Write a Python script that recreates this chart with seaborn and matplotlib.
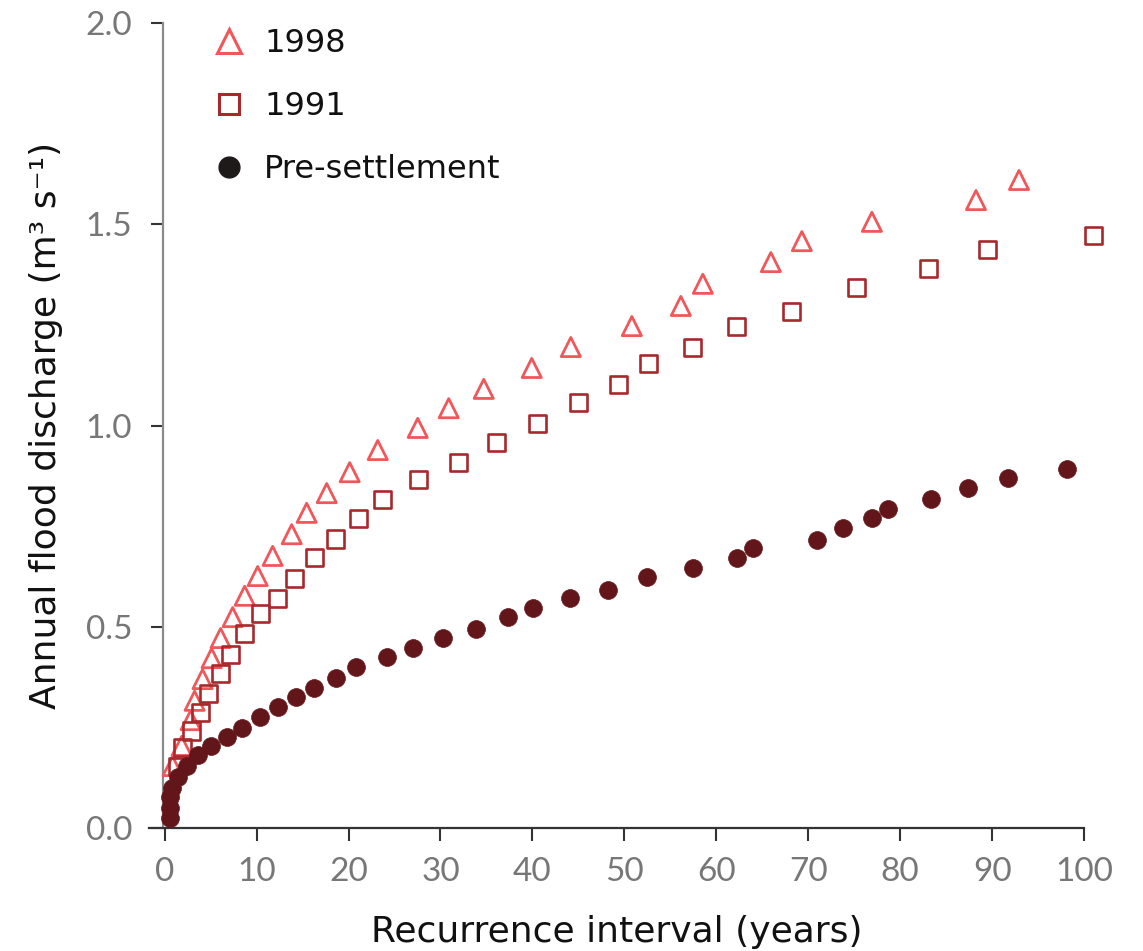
import numpy as np
import pandas as pd
import matplotlib
matplotlib.use("Agg")
import matplotlib.pyplot as plt
from matplotlib.lines import Line2D
import seaborn as sns

# ---- data ----
ri_1998 = [0.87, 1.85, 2.83, 3.26, 4.13, 5.11, 6.09, 7.40, 8.71, 10.12, 11.75, 13.82,
           15.45, 17.63, 20.13, 23.18, 27.53, 30.90, 34.71, 39.93, 44.18, 50.82,
           56.15, 58.54, 65.94, 69.31, 76.93, 88.25, 92.93]
q_1998 = [0.154, 0.204, 0.268, 0.316, 0.370, 0.422, 0.472, 0.524, 0.577, 0.626, 0.676,
          0.730, 0.783, 0.832, 0.884, 0.939, 0.994, 1.043, 1.091, 1.143, 1.195, 1.247,
          1.297, 1.352, 1.406, 1.458, 1.506, 1.560, 1.610]

ri_1991 = [1.41, 1.96, 2.94, 3.92, 4.79, 6.09, 7.18, 8.71, 10.45, 12.30, 14.15, 16.32,
           18.61, 21.11, 23.72, 27.64, 31.99, 36.13, 40.59, 45.05, 49.40, 52.67, 57.45,
           62.24, 68.23, 75.30, 83.13, 89.45, 100.98]
q_1991 = [0.154, 0.199, 0.241, 0.288, 0.335, 0.383, 0.430, 0.484, 0.532, 0.571, 0.621,
          0.671, 0.718, 0.768, 0.817, 0.867, 0.909, 0.957, 1.006, 1.056, 1.103, 1.153,
          1.195, 1.245, 1.284, 1.342, 1.389, 1.438, 1.473]

ri_pre = [0.54, 0.54, 0.54, 0.76, 1.41, 2.39, 3.59, 5.01, 6.75, 8.38, 10.34, 12.30,
          14.25, 16.21, 18.61, 20.78, 24.16, 26.99, 30.25, 33.84, 37.32, 40.04, 44.07,
          48.20, 52.45, 57.45, 62.24, 63.98, 70.95, 73.78, 76.93, 78.67, 83.35, 87.38,
          91.73, 98.15]
q_pre = [0.025, 0.050, 0.077, 0.099, 0.127, 0.154, 0.181, 0.204, 0.226, 0.248, 0.276,
         0.301, 0.325, 0.348, 0.373, 0.400, 0.425, 0.447, 0.472, 0.494, 0.524, 0.547,
         0.571, 0.591, 0.624, 0.646, 0.671, 0.696, 0.716, 0.745, 0.770, 0.793, 0.817,
         0.845, 0.870, 0.892]

series_labels = ["1998", "1991", "Pre-settlement"]
x_ticks = [0, 10, 20, 30, 40, 50, 60, 70, 80, 90, 100]
y_ticks = [0.0, 0.5, 1.0, 1.5, 2.0]

# ---- style ----
sns.set_style("ticks")
plt.rcParams["font.family"] = ["DejaVu Sans"]

c_1998 = "#f0575a"
c_1991 = "#a8282c"
c_pre = "#63161a"

fig = plt.figure(figsize=(11.43, 9.51), dpi=100)
ax = fig.add_axes([149 / 1143, 123 / 951, (1084 - 149) / 1143, (828 - 23) / 951])

df98 = pd.DataFrame({"ri": ri_1998, "q": q_1998})
df91 = pd.DataFrame({"ri": ri_1991, "q": q_1991})
dfpre = pd.DataFrame({"ri": ri_pre, "q": q_pre})

sns.scatterplot(data=df98, x="ri", y="q", ax=ax, marker="^", s=190,
                facecolor="none", edgecolor=c_1998, linewidth=2.0, clip_on=False, zorder=3)
sns.scatterplot(data=df91, x="ri", y="q", ax=ax, marker="s", s=150,
                facecolor="none", edgecolor=c_1991, linewidth=1.9, clip_on=False, zorder=3)
sns.scatterplot(data=dfpre, x="ri", y="q", ax=ax, marker="o", s=165,
                facecolor=c_pre, edgecolor=c_pre, linewidth=0.5, clip_on=False, zorder=4)

ax.set_xlim(-1.7, 100)
ax.set_ylim(0, 2.0)
ax.spines["left"].set_position(("data", -0.2))
ax.spines["top"].set_visible(False)
ax.spines["right"].set_visible(False)
ax.spines["bottom"].set_color("#333333")
ax.spines["left"].set_color("#8a8a8a")
ax.spines["bottom"].set_linewidth(1.6)
ax.spines["left"].set_linewidth(1.6)

ax.set_xticks(x_ticks)
ax.set_xticklabels([str(t) for t in x_ticks])
ax.set_yticks(y_ticks)
ax.set_yticklabels([f"{t:.1f}" for t in y_ticks])
ax.tick_params(axis="x", direction="out", length=9, width=1.5, color="#333333",
               pad=12, labelsize=24, labelcolor="#777777")
ax.tick_params(axis="y", direction="out", length=9, width=1.5, color="#333333",
               pad=13, labelsize=24, labelcolor="#777777")
for lab in ax.get_xticklabels() + ax.get_yticklabels():
    lab.set_family(["Lato", "DejaVu Sans"])
    lab.set_fontweight("normal")

ax.set_xlabel("Recurrence interval (years)", fontsize=26, color="#111111", labelpad=20)
ax.set_ylabel("Annual flood discharge (m³ s⁻¹)", fontsize=26, color="#111111", labelpad=16)

handles = [
    Line2D([], [], linestyle="none", marker="^", markersize=17, markerfacecolor="none",
           markeredgecolor=c_1998, markeredgewidth=2.2),
    Line2D([], [], linestyle="none", marker="s", markersize=15, markerfacecolor="none",
           markeredgecolor=c_1991, markeredgewidth=2.2),
    Line2D([], [], linestyle="none", marker="o", markersize=15, markerfacecolor="#1e1a1a",
           markeredgecolor="#1e1a1a"),
]
leg = ax.legend(handles, series_labels, loc="upper left",
                bbox_to_anchor=(194 / 1143, 1 - 12 / 951),
                bbox_transform=fig.transFigure, frameon=False, fontsize=23,
                handletextpad=0.5, labelspacing=1.0, borderpad=0, handlelength=1.2)
for t in leg.get_texts():
    t.set_color("#111111")

fig.savefig("out.png", dpi=100)
